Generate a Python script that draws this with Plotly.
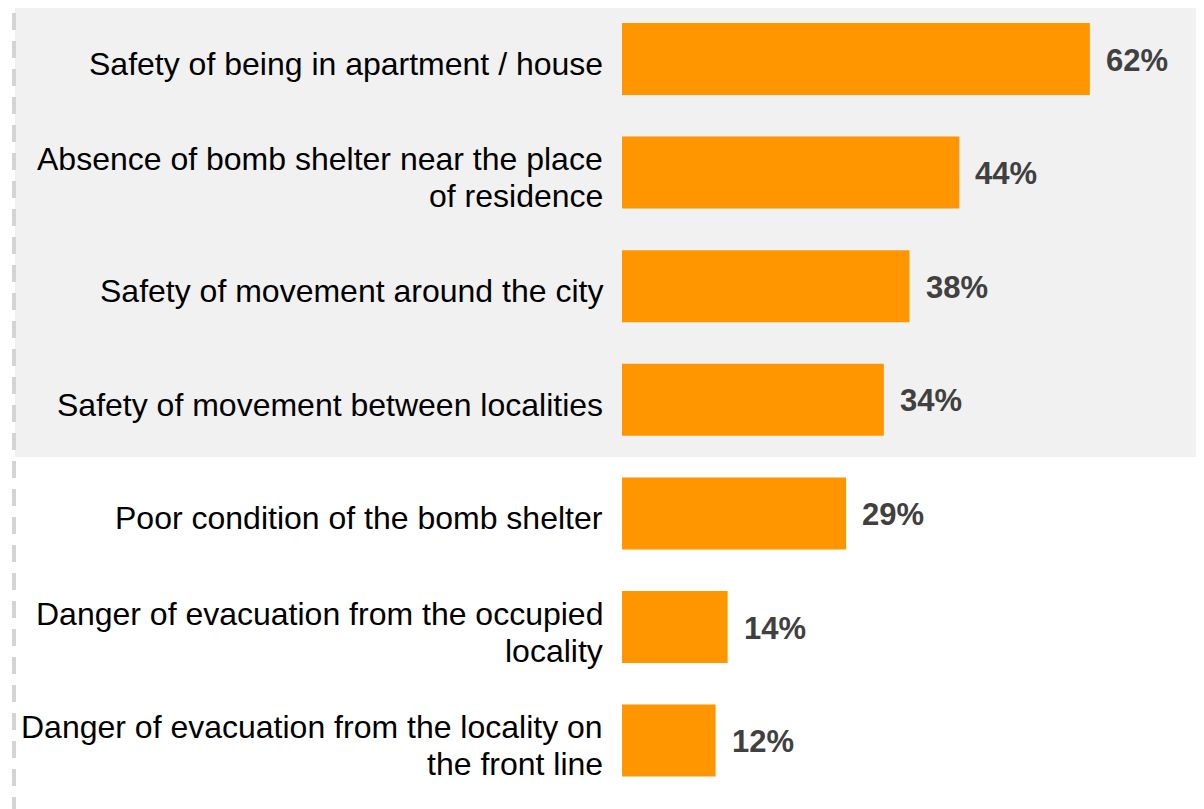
import plotly.graph_objects as go

categories = [
    "Safety of being in apartment / house",
    "Absence of bomb shelter near the place<br>of residence",
    "Safety of movement around the city",
    "Safety of movement between localities",
    "Poor condition of the bomb shelter",
    "Danger of evacuation from the occupied<br>locality",
    "Danger of evacuation from the locality on<br>the front line",
]
values = [62.0, 44.7, 38.1, 34.7, 29.7, 14.0, 12.4]
labels = ["62%", "44%", "38%", "34%", "29%", "14%", "12%"]

# page has 8px body margin, so figure is 1196x801
W, H = 1196, 801
L, R, T, B = 614, 1189, 0, 801
pw, ph = R - L, B - T
step = 113.6  # px per category


def px(x):
    return (x - L) / pw


def py(y):
    return 1 - (y - T) / ph


FONT = 'Liberation Sans, Arial, sans-serif'

fig = go.Figure()
fig.add_trace(go.Bar(
    x=values, y=categories, orientation='h',
    marker=dict(color='#FF9600', line=dict(width=0)),
    width=0.634, showlegend=False, hoverinfo='skip'
))

for cat, v, lab in zip(categories, values, labels):
    fig.add_annotation(
        x=v, y=cat, text='<b>%s</b>' % lab, showarrow=False,
        xanchor='left', yanchor='middle', xshift=14, yshift=-1,
        font=dict(family=FONT, size=31, color='#404040')
    )
    # category label, one annotation per line for tighter line spacing
    lines = cat.split('<br>')
    n = len(lines)
    for i, ln in enumerate(lines):
        fig.add_annotation(
            x=0, y=cat, text=ln, showarrow=False,
            xanchor='right', yanchor='middle', xshift=-17,
            yshift=-(i - (n - 1) / 2) * 37 - 5,
            font=dict(family=FONT, size=32, color='#000000')
        )

# shaded top block and dashed left rule
fig.add_shape(type='rect', xref='paper', yref='paper',
              x0=px(7), x1=px(1189), y0=py(0), y1=py(449),
              fillcolor='#F1F1F1', line=dict(width=0), layer='below')
fig.add_shape(type='line', xref='paper', yref='paper',
              x0=px(6), x1=px(6), y0=py(-23), y1=py(810),
              line=dict(color='#D4D4D4', width=4, dash='17px,11px'))

top = -51 / step
fig.update_layout(
    width=W, height=H,
    margin=dict(l=L, r=W - R, t=T, b=H - B, pad=0),
    paper_bgcolor='white', plot_bgcolor='rgba(0,0,0,0)',
    font=dict(family=FONT, size=32, color='#000000'),
)
fig.update_xaxes(range=[0, 76.2], visible=False, fixedrange=True)
fig.update_yaxes(range=[top + ph / step, top], showgrid=False, zeroline=False,
                 showline=False, ticks='', showticklabels=False)

fig.write_html("out.html")
